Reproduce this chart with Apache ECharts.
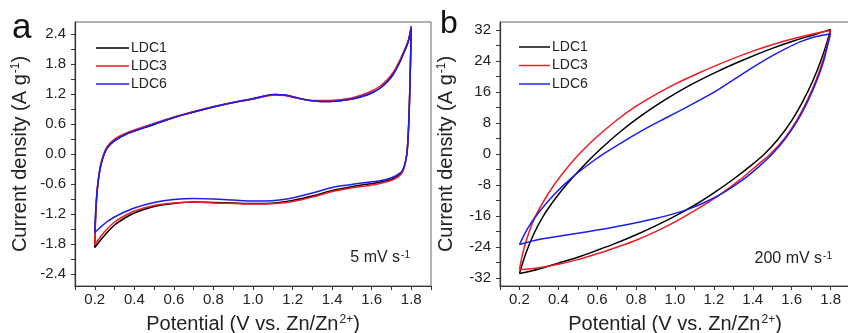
<!DOCTYPE html>
<html><head><meta charset="utf-8">
<script src="https://cdn.jsdelivr.net/npm/echarts@6/dist/echarts.min.js"></script>
<style>html,body{margin:0;padding:0;background:#fff}#c{width:848px;height:333px}</style>
</head><body><div id="c"></div>
<script>
// ---- data ----
const seriesNames = ['LDC1', 'LDC3', 'LDC6'];
const xTickValues = [0.1,0.2,0.3,0.4,0.5,0.6,0.7,0.8,0.9,1.0,1.1,1.2,1.3,1.4,1.5,1.6,1.7,1.8,1.9];
const xLabelValues = [0.2,0.4,0.6,0.8,1.0,1.2,1.4,1.6,1.8];
const aYTickValues = [-2.4,-2.1,-1.8,-1.5,-1.2,-0.9,-0.6,-0.3,0,0.3,0.6,0.9,1.2,1.5,1.8,2.1,2.4];
const aYLabelValues = [-2.4,-1.8,-1.2,-0.6,0,0.6,1.2,1.8,2.4];
const bYTickValues = [-32,-28,-24,-20,-16,-12,-8,-4,0,4,8,12,16,20,24,28,32];
const bYLabelValues = [-32,-24,-16,-8,0,8,16,24,32];

// panel a, 5 mV/s : [potential V, current A/g], anodic sweep then cathodic sweep
const a_LDC1 = [[0.2,-1.87],[0.203,-1.4],[0.207,-1.05],[0.212,-0.75],[0.22,-0.47],[0.232,-0.2],[0.254,0.06],[0.28,0.2],[0.313,0.3],[0.36,0.4],[0.43,0.5],[0.5,0.59],[0.6,0.73],[0.7,0.84],[0.8,0.94],[0.9,1.03],[1.0,1.1],[1.06,1.16],[1.11,1.19],[1.16,1.18],[1.21,1.13],[1.26,1.09],[1.31,1.06],[1.38,1.05],[1.45,1.07],[1.5,1.1],[1.55,1.15],[1.6,1.22],[1.64,1.31],[1.68,1.45],[1.71,1.6],[1.74,1.82],[1.76,2.0],[1.785,2.25],[1.8,2.55],
 [1.795,1.6],[1.79,0.9],[1.785,0.4],[1.778,0.0],[1.765,-0.25],[1.75,-0.38],[1.72,-0.47],[1.69,-0.52],[1.66,-0.55],[1.62,-0.58],[1.55,-0.62],[1.48,-0.67],[1.4,-0.73],[1.31,-0.83],[1.2,-0.93],[1.11,-0.98],[1.0,-0.99],[0.9,-0.98],[0.8,-0.97],[0.7,-0.96],[0.6,-0.99],[0.5,-1.05],[0.4,-1.18],[0.34,-1.31],[0.3,-1.42],[0.26,-1.58],[0.23,-1.72],[0.2,-1.87]];
const a_LDC3 = [[0.2,-1.82],[0.203,-1.38],[0.207,-1.02],[0.212,-0.72],[0.22,-0.44],[0.232,-0.17],[0.254,0.09],[0.28,0.23],[0.313,0.33],[0.36,0.42],[0.43,0.52],[0.5,0.61],[0.6,0.74],[0.7,0.85],[0.8,0.95],[0.9,1.03],[1.0,1.1],[1.06,1.15],[1.11,1.18],[1.16,1.17],[1.21,1.13],[1.26,1.09],[1.31,1.07],[1.38,1.07],[1.45,1.09],[1.5,1.12],[1.55,1.18],[1.6,1.26],[1.64,1.35],[1.68,1.49],[1.71,1.64],[1.74,1.86],[1.76,2.03],[1.785,2.27],[1.8,2.55],
 [1.795,1.6],[1.79,0.9],[1.785,0.4],[1.778,0.0],[1.765,-0.26],[1.75,-0.4],[1.72,-0.49],[1.69,-0.54],[1.66,-0.57],[1.62,-0.61],[1.55,-0.65],[1.48,-0.69],[1.4,-0.75],[1.31,-0.85],[1.2,-0.95],[1.11,-0.99],[1.0,-1.0],[0.9,-0.99],[0.8,-0.98],[0.7,-0.96],[0.6,-0.98],[0.5,-1.03],[0.4,-1.14],[0.34,-1.26],[0.3,-1.36],[0.26,-1.51],[0.23,-1.65],[0.2,-1.82]];
const a_LDC6 = [[0.2,-1.57],[0.203,-1.25],[0.207,-0.98],[0.212,-0.72],[0.22,-0.46],[0.232,-0.2],[0.254,0.06],[0.28,0.2],[0.313,0.3],[0.36,0.4],[0.43,0.5],[0.5,0.6],[0.6,0.73],[0.7,0.84],[0.8,0.94],[0.9,1.03],[1.0,1.11],[1.06,1.16],[1.11,1.19],[1.16,1.18],[1.21,1.14],[1.26,1.09],[1.31,1.06],[1.38,1.05],[1.45,1.07],[1.5,1.1],[1.55,1.15],[1.6,1.22],[1.64,1.31],[1.68,1.45],[1.71,1.6],[1.74,1.82],[1.76,2.0],[1.785,2.25],[1.8,2.52],
 [1.795,1.6],[1.79,0.9],[1.785,0.4],[1.778,0.0],[1.765,-0.24],[1.75,-0.36],[1.72,-0.44],[1.69,-0.49],[1.66,-0.52],[1.62,-0.55],[1.55,-0.58],[1.48,-0.62],[1.4,-0.67],[1.31,-0.77],[1.2,-0.88],[1.11,-0.93],[1.0,-0.94],[0.9,-0.92],[0.8,-0.9],[0.7,-0.89],[0.6,-0.91],[0.5,-0.97],[0.4,-1.08],[0.34,-1.18],[0.3,-1.26],[0.26,-1.36],[0.23,-1.46],[0.2,-1.57]];

// panel b, 200 mV/s
const b_LDC1 = [[0.2,-30.8],[0.23,-26.0],[0.27,-21.0],[0.32,-16.2],[0.38,-11.8],[0.45,-7.4],[0.53,-3.0],[0.62,1.4],[0.72,5.8],[0.83,10.0],[0.95,14.0],[1.08,17.8],[1.22,21.3],[1.36,24.4],[1.5,27.2],[1.62,29.3],[1.72,30.8],[1.8,32.1],
 [1.78,28.5],[1.75,24.0],[1.71,19.0],[1.66,13.8],[1.6,8.6],[1.53,3.8],[1.46,0.0],[1.39,-3.0],[1.3,-6.5],[1.2,-10.0],[1.1,-13.2],[1.0,-16.0],[0.9,-18.5],[0.8,-20.8],[0.7,-22.9],[0.6,-24.8],[0.5,-26.6],[0.4,-28.1],[0.3,-29.6],[0.2,-30.8]];
const b_LDC3 = [[0.2,-29.8],[0.215,-26.0],[0.24,-21.5],[0.279,-16.4],[0.347,-10.3],[0.416,-5.4],[0.5,-0.4],[0.6,4.5],[0.7,8.7],[0.8,12.3],[0.9,15.3],[1.0,18.0],[1.12,20.8],[1.25,23.6],[1.4,26.5],[1.55,28.9],[1.68,30.6],[1.8,31.8],
 [1.785,28.5],[1.76,24.0],[1.725,19.0],[1.68,13.8],[1.625,8.6],[1.56,3.8],[1.49,0.0],[1.42,-3.0],[1.33,-6.8],[1.23,-10.5],[1.12,-14.0],[1.0,-17.5],[0.9,-20.0],[0.8,-22.2],[0.7,-24.0],[0.6,-25.7],[0.5,-27.2],[0.4,-28.4],[0.3,-29.3],[0.2,-29.8]];
const b_LDC6 = [[0.2,-23.3],[0.244,-19.0],[0.3,-15.0],[0.381,-10.3],[0.467,-6.2],[0.55,-2.9],[0.638,0.2],[0.741,3.4],[0.844,6.4],[0.95,9.2],[1.058,12.0],[1.15,14.5],[1.229,16.8],[1.31,19.4],[1.4,22.3],[1.49,25.0],[1.572,27.2],[1.65,29.0],[1.72,30.2],[1.8,31.0],
 [1.785,28.0],[1.765,24.0],[1.73,19.0],[1.685,13.8],[1.63,8.6],[1.565,3.8],[1.5,0.0],[1.43,-3.3],[1.35,-6.6],[1.26,-9.6],[1.16,-12.3],[1.08,-14.0],[1.0,-15.3],[0.9,-16.6],[0.8,-17.7],[0.7,-18.7],[0.6,-19.6],[0.5,-20.4],[0.4,-21.2],[0.3,-22.0],[0.2,-23.3]];

// ---- chart ----
const FONT = 'Liberation Sans';
const colors = {LDC1:'#000000', LDC3:'#ee1c24', LDC6:'#1c1cf0'};
const panelA = {LDC1:a_LDC1, LDC3:a_LDC3, LDC6:a_LDC6};
const panelB = {LDC1:b_LDC1, LDC3:b_LDC3, LDC6:b_LDC6};

function branches(data){
  let k = 0;
  data.forEach((p,i)=>{ if (p[0] > data[k][0]) k = i; });
  return [data.slice(0,k+1), data.slice(k)];
}
const series = [];
[[panelA,0],[panelB,1]].forEach(([panel,gi])=>{
  seriesNames.forEach(name=>{
    branches(panel[name]).forEach(br=>{
      series.push({type:'line', name, xAxisIndex:gi, yAxisIndex:gi, data:br,
        symbol:'none', smooth:0.3, color:colors[name],
        lineStyle:{width:1.5, color:colors[name]}, animation:false, z:3});
    });
  });
});

const supRich = {sup:{fontSize:12, fontFamily:FONT, color:'#222', verticalAlign:'top', padding:[0,0,8,1]}};
function xAxis(gi){
  return {type:'value', gridIndex:gi, min:0.1, max:1.9,
    name:'Potential (V vs. Zn/Zn{sup|2+})', nameLocation:'middle', nameGap:28,
    nameTextStyle:{fontSize:20, fontFamily:FONT, color:'#222', rich:supRich},
    axisLine:{onZero:false, lineStyle:{color:'#333', width:1.2}},
    axisTick:{show:true, length:4, customValues:xTickValues, lineStyle:{color:'#333'}},
    axisLabel:{customValues:xLabelValues, formatter:v=>v.toFixed(1), fontSize:15, fontFamily:FONT, color:'#222', margin:6},
    splitLine:{show:false}};
}
function yAxis(gi, lo, hi, ticks, labels, fmt){
  return {type:'value', gridIndex:gi, min:lo, max:hi,
    name:'Current density (A g{sup|-1})', nameLocation:'middle', nameGap:gi===0?45:44, nameRotate:90,
    nameTextStyle:{fontSize:20, fontFamily:FONT, color:'#222', rich:supRich},
    axisLine:{onZero:false, lineStyle:{color:'#333', width:1.2}},
    axisTick:{show:true, length:4, customValues:ticks, lineStyle:{color:'#333'}},
    axisLabel:{customValues:labels, formatter:fmt, fontSize:15, fontFamily:FONT, color:'#222', margin:9},
    splitLine:{show:false}};
}

const option = {
  backgroundColor:'#fff',
  animation:false,
  grid:[
    {left:75, top:22, width:356, height:264, show:true, borderColor:'#666', borderWidth:1, outerBoundsMode:'none', containLabel:false},
    {left:500, top:22, width:350, height:264, show:true, borderColor:'#666', borderWidth:1, outerBoundsMode:'none', containLabel:false}
  ],
  xAxis:[xAxis(0), xAxis(1)],
  yAxis:[
    yAxis(0, -2.64, 2.64, aYTickValues, aYLabelValues, v=>v.toFixed(1)),
    yAxis(1, -34, 34, bYTickValues, bYLabelValues, v=>String(Math.round(v)))
  ],
  legend:[
    {data:seriesNames, left:91, top:36, orient:'vertical', itemWidth:33, itemHeight:14, itemGap:4, icon:'path://M0,0 L32,0 L32,1.5 L0,1.5 Z',
     textStyle:{fontSize:14, fontFamily:FONT, color:'#222', padding:[0,0,0,-3]}, selectedMode:false},
    {data:seriesNames, left:514, top:35, orient:'vertical', itemWidth:31, itemHeight:12, itemGap:4.5, icon:'path://M0,0 L32,0 L32,1.5 L0,1.5 Z',
     textStyle:{fontSize:14, fontFamily:FONT, color:'#222', padding:[0,0,0,-3]}, selectedMode:false}
  ],
  graphic:[
    {type:'text', left:12, top:11, style:{text:'a', font:'35px '+FONT, fill:'#111'}},
    {type:'text', left:440, top:8, style:{text:'b', font:'32px '+FONT, fill:'#111'}},
    {type:'text', right:438, top:250, style:{text:'5 mV s{sup|-1}', font:'16px '+FONT, fill:'#222',
      rich:{sup:{fontSize:10, fontFamily:FONT, fill:'#222', verticalAlign:'top', padding:[0,0,6,1]}}}},
    {type:'text', right:16, top:251, style:{text:'200 mV s{sup|-1}', font:'16px '+FONT, fill:'#222',
      rich:{sup:{fontSize:10, fontFamily:FONT, fill:'#222', verticalAlign:'top', padding:[0,0,6,1]}}}}
  ],
  series
};
const chart = echarts.init(document.getElementById('c'), null, {renderer:'canvas'});
chart.setOption(option);
</script></body></html>
